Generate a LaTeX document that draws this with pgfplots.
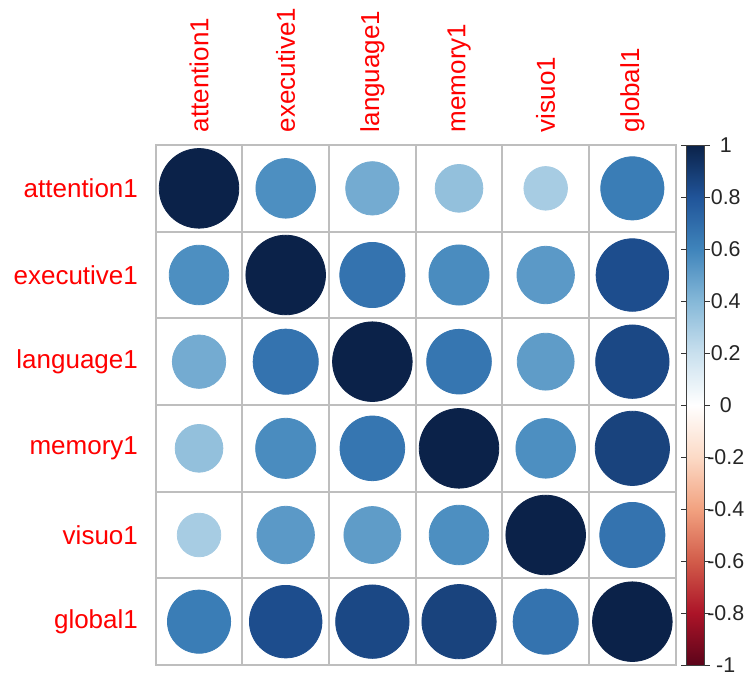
\documentclass[border=0pt]{standalone}
\usepackage{pgfplots}
\pgfplotsset{compat=1.18}
\usepackage{pgfplotstable}
\usepackage{fontspec}
\setmainfont{Liberation Sans}
\definecolor{gridgray}{HTML}{BEBEBE}
\definecolor{rlabel}{HTML}{FF0000}

% correlation matrix: x = column (1..6), y = row (6 = attention1 at top, 1 = global1 at bottom)
\pgfplotstableread{
x y r
1 6 1.00
2 6 0.56
3 6 0.45
4 6 0.36
5 6 0.30
6 6 0.63
1 5 0.56
2 5 1.00
3 5 0.67
4 5 0.57
5 5 0.52
6 5 0.83
1 4 0.45
2 4 0.67
3 4 1.00
4 4 0.66
5 4 0.51
6 4 0.85
1 3 0.36
2 3 0.57
3 3 0.66
4 3 1.00
5 3 0.56
6 3 0.87
1 2 0.30
2 2 0.52
3 2 0.51
4 2 0.56
5 2 1.00
6 2 0.67
1 1 0.63
2 1 0.83
3 1 0.85
4 1 0.87
5 1 0.67
6 1 1.00
}\corrtable

\begin{document}
\begin{tikzpicture}
\begin{axis}[
  at={(0,0)}, anchor=south west,
  scale only axis,
  width=260pt, height=260pt,
  xmin=0.5, xmax=6.5, ymin=0.5, ymax=6.5,
  xtick={1,2,3,4,5,6},
  xticklabels={attention1,executive1,language1,memory1,visuo1,global1},
  ytick={1,2,3,4,5,6},
  yticklabels={global1,visuo1,memory1,language1,executive1,attention1},
  xticklabel pos=upper,
  major tick length=0pt,
  minor xtick={1.5,2.5,3.5,4.5,5.5},
  minor ytick={1.5,2.5,3.5,4.5,5.5},
  minor tick length=0pt,
  grid=minor,
  minor grid style={draw=gridgray, line width=0.9pt},
  axis line style={draw=gridgray, line width=0.9pt},
  tick label style={font=\fontsize{13}{15}\selectfont, text=rlabel, inner sep=0pt},
  xticklabel style={rotate=90, anchor=west},
  yticklabel style={anchor=east},
  xticklabel shift=6.2pt,
  yticklabel shift=8.7pt,
  colormap={RdBu}{
    rgb255(0)=(92,4,26)
    rgb255(1)=(172,20,40)
    rgb255(2)=(210,92,74)
    rgb255(3)=(242,162,128)
    rgb255(4)=(252,218,198)
    rgb255(5)=(255,255,255)
    rgb255(6)=(201,224,238)
    rgb255(7)=(133,184,216)
    rgb255(8)=(63,132,187)
    rgb255(9)=(32,84,153)
    rgb255(10)=(11,34,73)
  },
  point meta min=-1, point meta max=1,
  colorbar right,
  colorbar style={
    scale only axis,
    width=9.2pt, height=260pt,
    at={(parent axis.north east)}, anchor=north west, xshift=-3.2pt,
    axis line style={draw=black!75, line width=0.5pt},
    ytick={-1,-0.8,-0.6,-0.4,-0.2,0,0.2,0.4,0.6,0.8,1},
    yticklabels={-1,-0.8,-0.6,-0.4,-0.2,0,0.2,0.4,0.6,0.8,1},
    tick align=outside,
    major tick length=2.5pt,
    major tick style={draw=black!80, line width=0.5pt},
    yticklabel style={font=\fontsize{10.7}{12}\selectfont, text=black!85, anchor=center, inner sep=0pt, xshift=8.0pt},
  },
]
\addplot[scatter, only marks, mark=*,
  scatter/use mapped color={draw=mapped color, fill=mapped color},
  point meta=explicit,
  visualization depends on={\thisrow{r} \as \rr},
  scatter/@pre marker code/.append style={/tikz/mark size={19.9*sqrt(\rr)}},
] table[x=x, y=y, meta=r] {\corrtable};
\end{axis}
\pgfresetboundingbox
\path (-77.85pt,-6pt) rectangle (294.65pt,332.5pt);
\end{tikzpicture}
\end{document}
